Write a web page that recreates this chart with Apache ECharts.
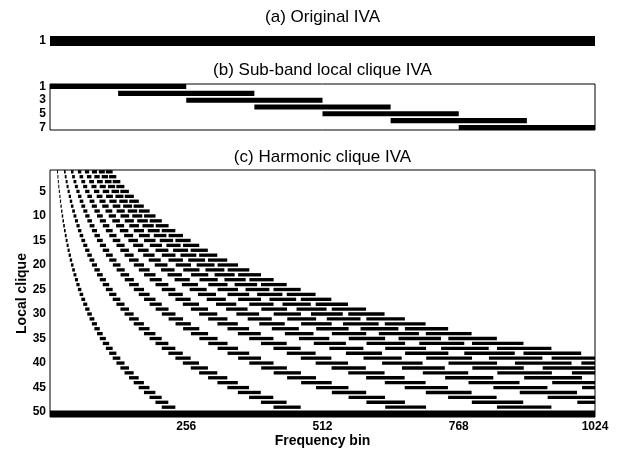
<!DOCTYPE html>
<html><head><meta charset="utf-8">
<script src="https://cdn.jsdelivr.net/npm/echarts@6/dist/echarts.min.js"></script>
<style>html,body{margin:0;padding:0;background:#fff}#c{width:623px;height:468px}</style>
</head><body><div id="c"></div>
<script>
// ---- data ----
const panelTitles = ['(a) Original IVA', '(b) Sub-band local clique IVA', '(c) Harmonic clique IVA'];
const originalBand = [0, 1024];                       // clique 1 of panel (a)
const subbandStart = [0, 128, 256, 384, 512, 640, 768];
const subbandEnd   = [256, 384, 512, 640, 768, 896, 1024];
// fundamental bin of each harmonic clique 1..49
const harmonicF0 = [13.9, 14.7, 15.6, 16.5, 17.5, 18.6, 19.7, 20.8, 22.1, 23.4,
  24.8, 26.3, 27.8, 29.5, 31.2, 33.1, 35.0, 37.1, 39.3, 41.7,
  44.2, 46.8, 49.6, 52.5, 55.6, 58.9, 62.4, 66.1, 70.1, 74.2,
  78.7, 83.3, 88.3, 93.5, 99.1, 105.0, 111.2, 117.8, 124.8, 132.2,
  140.1, 148.4, 157.3, 166.6, 176.5, 187.0, 198.1, 209.9, 222.4];
const harmonicsPerClique = 8;
const bandLowRatio = 0.944, bandHighRatio = 1.059;   // band edges relative to each harmonic
const residualBand = [0, 1024];                       // clique 50
const freqTicks = [256, 512, 768, 1024];
const subbandTicks = [1, 3, 5, 7];
const harmonicTicks = [5, 10, 15, 20, 25, 30, 35, 40, 45, 50];
const FMAX = 1024;

// ---- build mark lists ----
const dataA = [[originalBand[0], originalBand[1], 1]];
const dataB = subbandStart.map((s, i) => [s, subbandEnd[i], i + 1]);
const dataC = [];
harmonicF0.forEach((f0, i) => {
  for (let h = 1; h <= harmonicsPerClique; h++) {
    const lo = h * f0 * bandLowRatio;
    if (lo >= FMAX) break;
    dataC.push([lo, Math.min(FMAX, h * f0 * bandHighRatio), i + 1]);
  }
});
const lastClique = harmonicF0.length + 1;
dataC.push([residualBand[0], residualBand[1], lastClique]);

// frac: bar thickness as a share of one row; the residual clique bar runs down to the frame
function bars(frac, lastRow) {
  return function (params, api) {
    const lo = api.value(0), hi = api.value(1), row = api.value(2);
    const p0 = api.coord([lo, row]), p1 = api.coord([hi, row]);
    const rowH = Math.abs(api.size([0, 1])[1]);
    const half = rowH * frac / 2;
    const cs = params.coordSys;
    let y0 = p0[1] - half, y1 = p0[1] + half;
    if (row === lastRow) y1 = cs.y + cs.height;
    const shape = echarts.graphic.clipRectByRect(
      { x: p0[0], y: y0, width: Math.max(1, p1[0] - p0[0]), height: y1 - y0 },
      { x: cs.x, y: cs.y, width: cs.width, height: cs.height });
    return shape && { type: 'rect', shape: shape, style: { fill: '#000' } };
  };
}

const L = 50, W = 545;
const FONT = 'Liberation Sans, Arial, sans-serif';
const lblStyle = { color: '#000', fontFamily: FONT, fontWeight: 'bold', fontSize: 12 };
const grids = [
  { left: L, width: W, top: 36, height: 10, show: false },
  { left: L, width: W, top: 84, height: 46, show: true, borderColor: '#000', borderWidth: 1, backgroundColor: 'transparent' },
  { left: L, width: W, top: 170, height: 247, show: true, borderColor: '#000', borderWidth: 1, backgroundColor: 'transparent' }
];
const xAxes = [0, 1, 2].map(i => ({
  type: 'value', gridIndex: i, min: 0, max: FMAX,
  axisLine: { show: false }, axisTick: { show: false }, splitLine: { show: false },
  axisLabel: i === 2 ? Object.assign({ customValues: freqTicks, margin: 4, formatter: v => String(v) }, lblStyle) : { show: false },
  name: i === 2 ? 'Frequency bin' : '', nameLocation: 'middle', nameGap: 17, nameMoveOverlap: false,
  nameTextStyle: { color: '#000', fontFamily: FONT, fontWeight: 'bold', fontSize: 14 }
}));
const yCommon = { type: 'value', inverse: true, axisLine: { show: false }, axisTick: { show: false }, splitLine: { show: false } };
const yAxes = [
  Object.assign({}, yCommon, { gridIndex: 0, min: 0.5, max: 1.5, axisLabel: Object.assign({ customValues: [1], margin: 4 }, lblStyle) }),
  Object.assign({}, yCommon, { gridIndex: 1, min: 0.625, max: 7.375, axisLabel: Object.assign({ customValues: subbandTicks, margin: 4 }, lblStyle) }),
  Object.assign({}, yCommon, { gridIndex: 2, min: 0.63, max: 51.0, axisLabel: Object.assign({ customValues: harmonicTicks, margin: 4 }, lblStyle),
    name: 'Local clique', nameLocation: 'middle', nameRotate: 90, nameGap: 21, nameMoveOverlap: false,
    nameTextStyle: { color: '#000', fontFamily: FONT, fontWeight: 'bold', fontSize: 14 } })
];
const titleY = [17, 70, 157];
const chart = echarts.init(document.getElementById('c'), null, { renderer: 'canvas' });
chart.setOption({
  animation: false,
  backgroundColor: '#fff',
  grid: grids, xAxis: xAxes, yAxis: yAxes,
  graphic: panelTitles.map((t, i) => ({
    type: 'text', x: L + W / 2, y: titleY[i],
    style: { text: t, fill: '#000', textAlign: 'center', textVerticalAlign: 'middle',
      font: '17px "Liberation Sans", Arial, sans-serif' }
  })),
  series: [
    { type: 'custom', xAxisIndex: 0, yAxisIndex: 0, data: dataA, renderItem: bars(1.0, -1), encode: { x: [0, 1], y: 2 } },
    { type: 'custom', xAxisIndex: 1, yAxisIndex: 1, data: dataB, renderItem: bars(0.75, -1), encode: { x: [0, 1], y: 2 } },
    { type: 'custom', xAxisIndex: 2, yAxisIndex: 2, data: dataC, renderItem: bars(0.68, lastClique), encode: { x: [0, 1], y: 2 } }
  ]
});
</script></body></html>
